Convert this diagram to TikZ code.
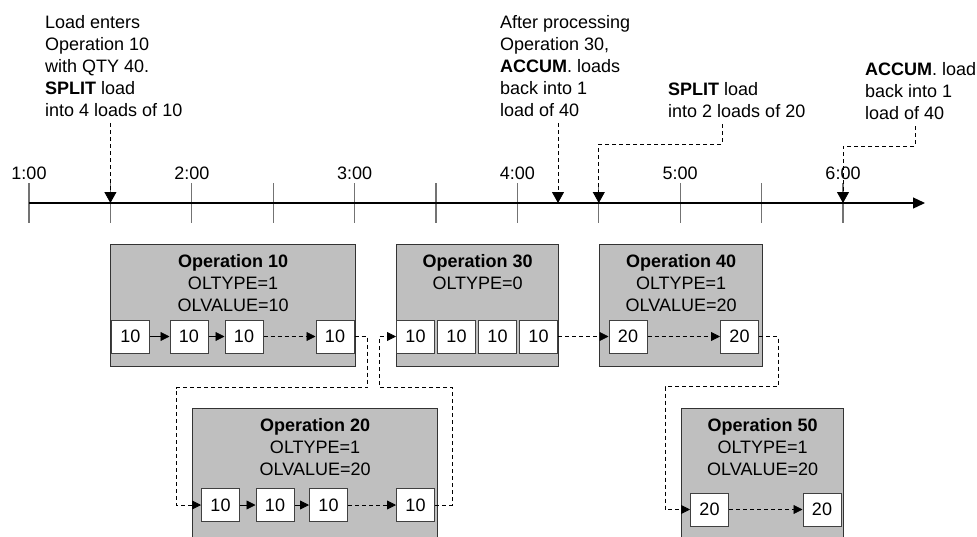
\documentclass[tikz,border=0pt]{standalone}
\usepackage{fontspec}
\setmainfont{Liberation Sans}
\usetikzlibrary{arrows.meta,positioning}

\begin{document}
\begin{tikzpicture}[x=1pt, y=-1pt,
        txt/.style={font=\fontsize{18}{22}\selectfont, inner sep=0pt},
        note/.style={txt, align=left, anchor=north west, inner ysep=6pt},
        optitle/.style={txt, align=center},
        opbox/.style={draw=black!80, fill=black!25, line width=1.2pt, anchor=north west, inner sep=0pt},
        ld/.style={txt, draw=black!75, fill=white, line width=1pt, minimum width=38pt, minimum height=33pt},
        flow/.style={-{Triangle[length=9pt,width=9pt]}, line width=0.8pt},
        dflow/.style={flow, dash pattern=on 4pt off 3pt},
        ptr/.style={-{Triangle[length=11pt,width=12pt]}, line width=0.8pt, dash pattern=on 4pt off 3pt},
        tickline/.style={draw=black!55, line width=1.2pt}]
        \useasboundingbox (0, 0) rectangle (977, 536);
        \clip (0, 0) rectangle (977, 536);

        % Time axis
        \foreach \i in {0,...,10} {
            \coordinate (k\i) at (29+81.4*\i, 203);
            \draw[tickline] (29+81.4*\i, 183) -- (29+81.4*\i, 223);
        }
        \coordinate (k65) at (558, 203);
        \coordinate (tend) at (925, 203);
        \draw[line width=1.2pt, -{Triangle[length=12pt,width=11pt]}] (k0) -- (tend);
        \foreach \h in {1,...,6}
            \node at (29+162.8*\h-162.8, 179.5) (h\h) [txt, anchor=base] {\h:00};

        % Notes above the axis
        \node at (45, 9.7) (splitA) [note] {Load enters\\Operation 10\\with QTY 40.\\\textbf{SPLIT} load\\into 4 loads of 10};
        \node at (500, 9.7) (accumA) [note] {After processing\\Operation 30,\\\textbf{ACCUM}. loads\\back into 1\\load of 40};
        \node at (668, 76.7) (splitB) [note] {\textbf{SPLIT} load\\into 2 loads of 20};
        \node at (865, 56.7) (accumB) [note] {\textbf{ACCUM}. load\\back into 1\\load of 40};

        % Pointers onto the axis
        \draw[ptr] (splitA.south -| k1) -- (k1);
        \draw[ptr] (accumA.south -| k65) -- (k65);
        \draw[ptr] (722,0 |- splitB.south) -- ++(0, 20) -| (k7);
        \draw[ptr] (915,0 |- accumB.south) -- ++(0, 20) -| (k10);

        % Operation boxes
        \node at (110, 244) (op10) [opbox, minimum width=245pt, minimum height=122pt] {};
        \node at (396, 244) (op30) [opbox, minimum width=162pt, minimum height=122pt] {};
        \node at (599, 244) (op40) [opbox, minimum width=163pt, minimum height=122pt] {};
        \node at (192, 408) (op20) [opbox, minimum width=245pt, minimum height=160pt] {};
        \node at (681, 408) (op50) [opbox, minimum width=162pt, minimum height=160pt] {};

        \node (op10t) [optitle, below=10pt of op10.north] {\textbf{Operation 10}\\OLTYPE=1\\OLVALUE=10};
        \node (op30t) [optitle, below=10pt of op30.north] {\textbf{Operation 30}\\OLTYPE=0};
        \node (op40t) [optitle, below=10pt of op40.north] {\textbf{Operation 40}\\OLTYPE=1\\OLVALUE=20};
        \node (op20t) [optitle, below=10pt of op20.north] {\textbf{Operation 20}\\OLTYPE=1\\OLVALUE=20};
        \node (op50t) [optitle, below=10pt of op50.north] {\textbf{Operation 50}\\OLTYPE=1\\OLVALUE=20};

        % Loads in Operation 10
        \node at (130.5, 336.5) (o10a) [ld] {10};
        \node at (189, 336.5) (o10b) [ld] {10};
        \node at (244, 336.5) (o10c) [ld] {10};
        \node at (335, 336.5) (o10d) [ld] {10};

        % Loads in Operation 20
        \node at (220.5, 505) (o20a) [ld] {10};
        \node at (275, 505) (o20b) [ld] {10};
        \node at (328.5, 505) (o20c) [ld] {10};
        \node at (415.5, 505) (o20d) [ld] {10};

        % Loads in Operation 30
        \node at (415.5, 336.5) (o30a) [ld] {10};
        \node at (456.5, 336.5) (o30b) [ld] {10};
        \node at (497.5, 336.5) (o30c) [ld] {10};
        \node at (538.5, 336.5) (o30d) [ld] {10};

        % Loads in Operation 40 and 50
        \node at (628, 336.5) (o40a) [ld] {20};
        \node at (739.5, 336.5) (o40b) [ld] {20};
        \node at (709.5, 509.5) (o50a) [ld] {20};
        \node at (822, 509.5) (o50b) [ld] {20};

        % Load flow
        \draw[flow] (o10a) -- (o10b);
        \draw[flow] (o10b) -- (o10c);
        \draw[dflow] (o10c) -- (o10d);
        \draw[dflow] (o10d.east) -| ++(13, 51) -| ([xshift=-25pt]o20a.west) -- (o20a.west);
        \draw[flow] (o20a) -- (o20b);
        \draw[flow] (o20b) -- (o20c);
        \draw[dflow] (o20c) -- (o20d);
        \draw[dflow] (o20d.east) -| ++(17, -118) -| ([xshift=-17pt]o30a.west) -- (o30a.west);
        \draw[dflow] (o30d) -- (o40a);
        \draw[dflow] (o40a) -- (o40b);
        \draw[dflow] (o40b.east) -| ++(19, 50) -| ([xshift=-25pt]o50a.west) -- (o50a.west);
        \draw[dflow] (o50a) -- (o50b);
    \end{tikzpicture}
\end{document}
